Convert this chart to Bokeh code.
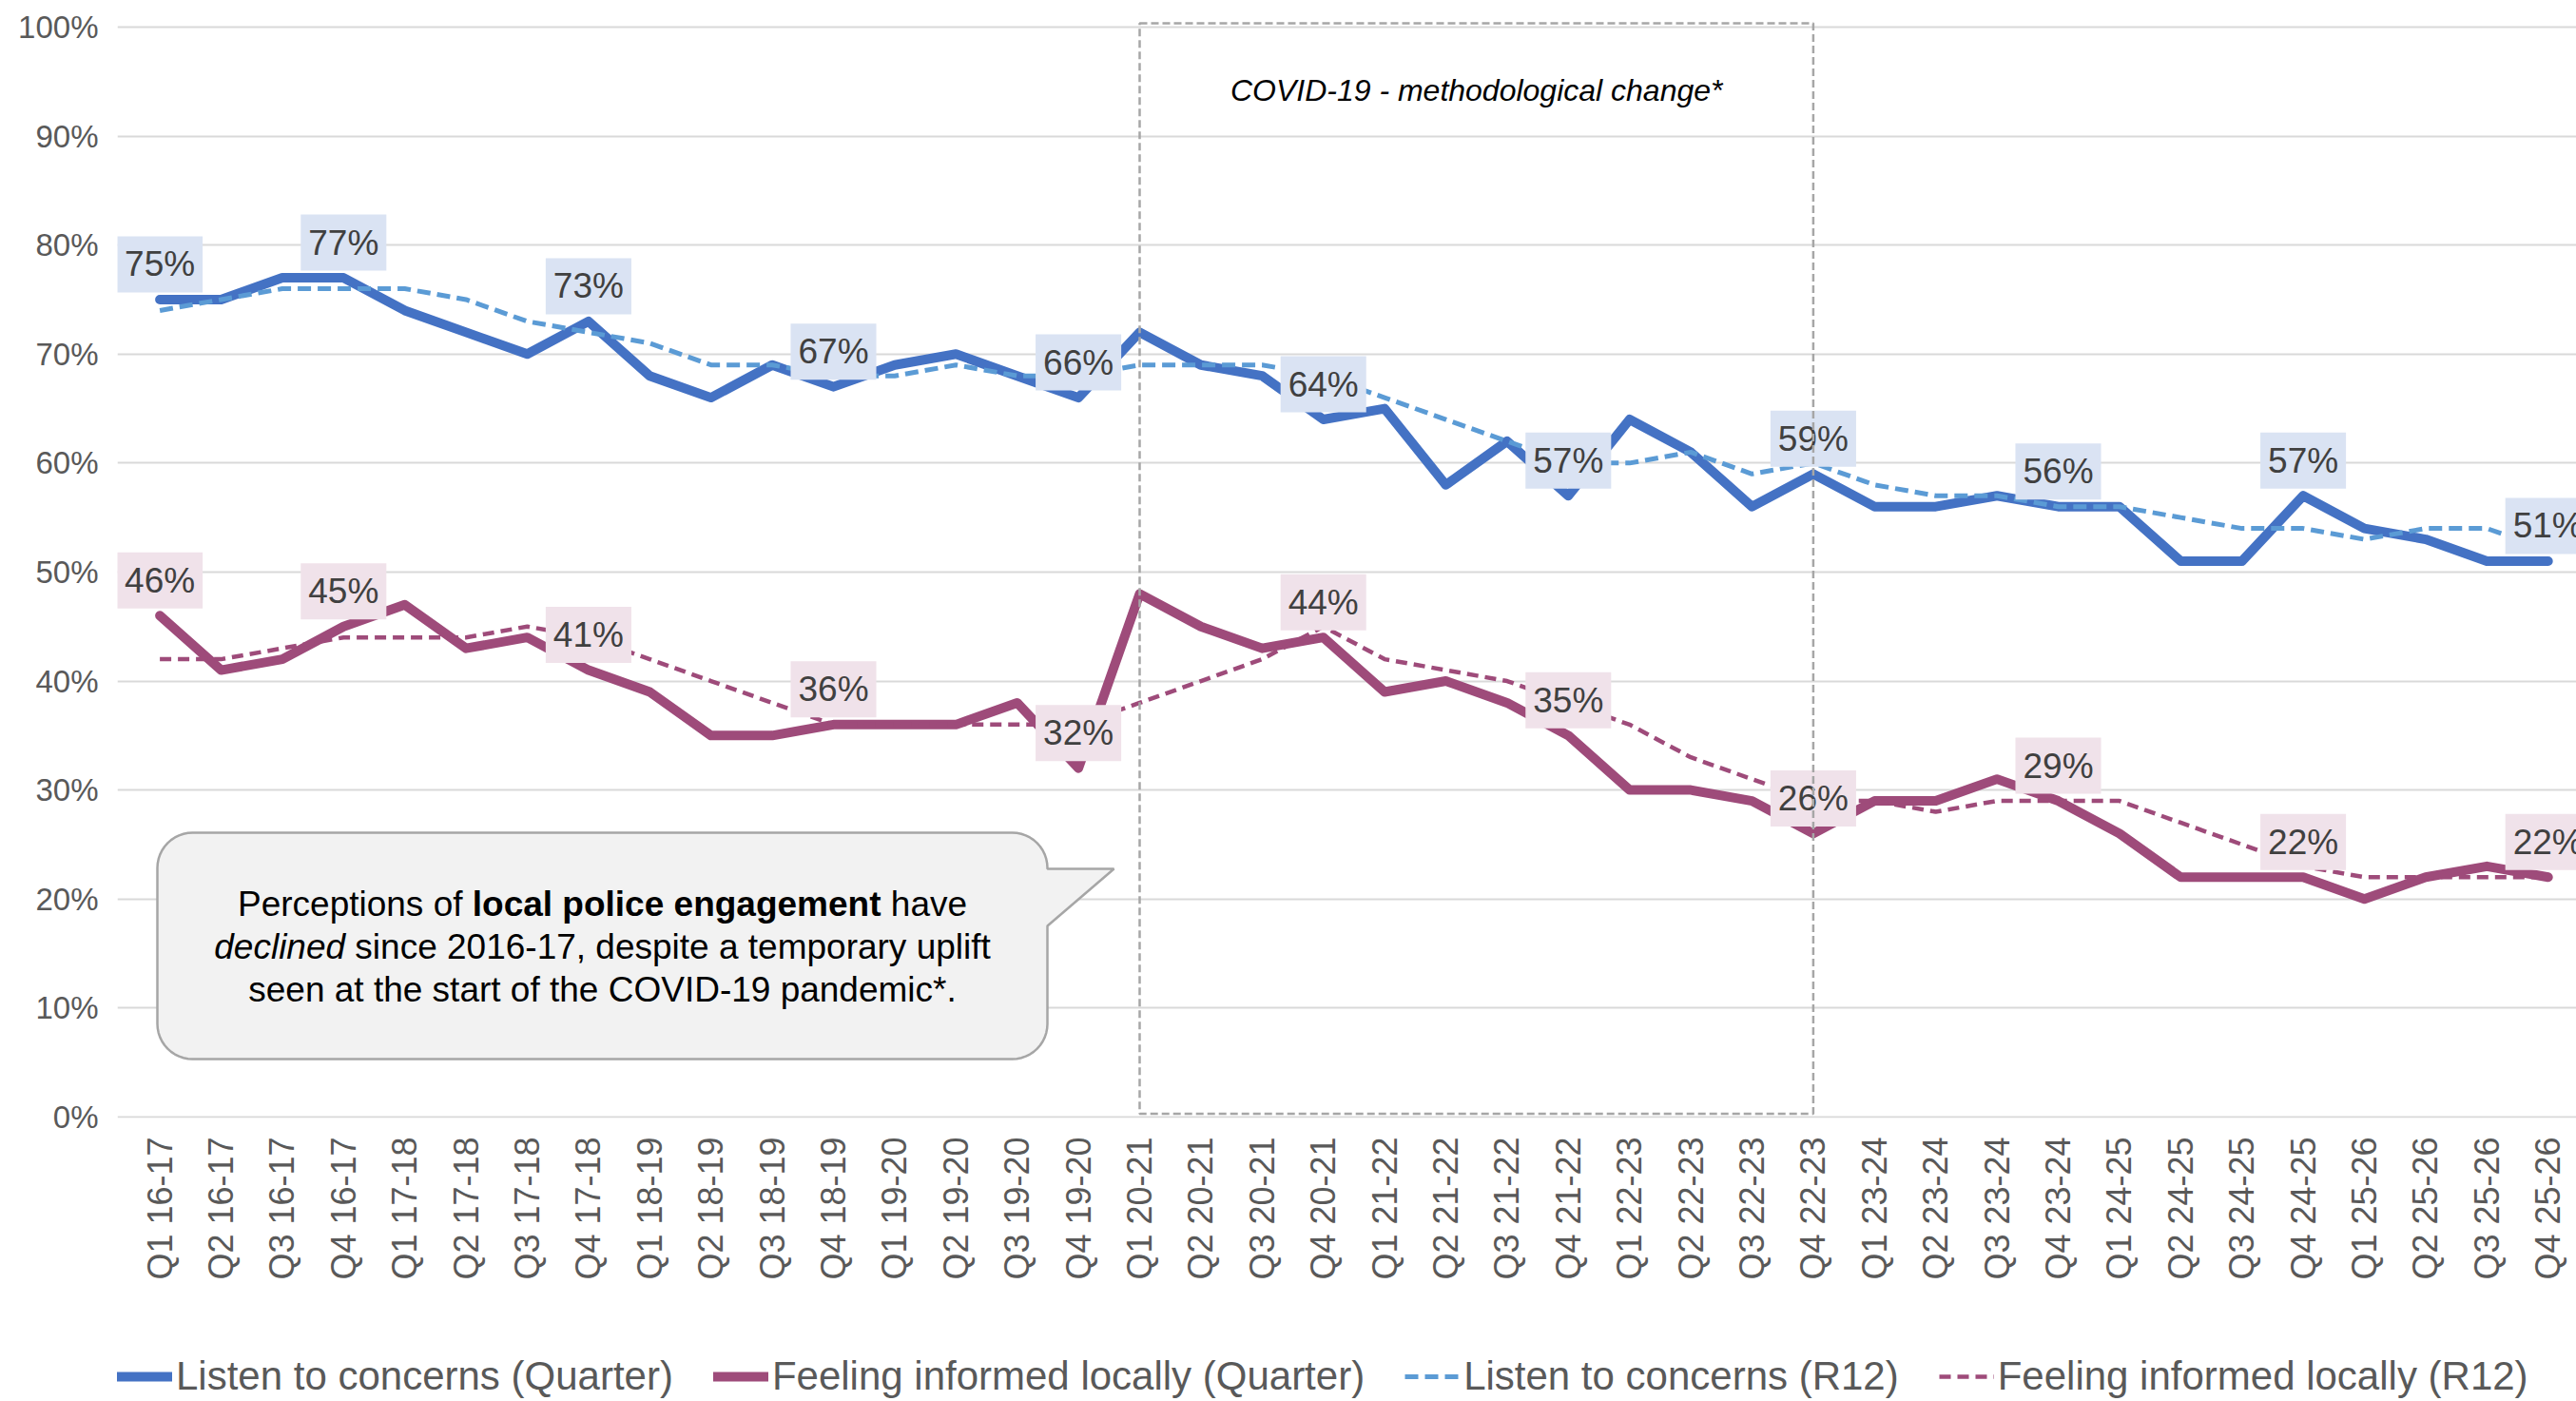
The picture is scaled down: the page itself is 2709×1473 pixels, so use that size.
import math
from bokeh.plotting import figure
from bokeh.layouts import column
from bokeh.models import (Range1d, FixedTicker, PrintfTickFormatter, BoxAnnotation,
                          Legend, LegendItem)
from bokeh.core.properties import value
from bokeh.embed import file_html
from bokeh.resources import INLINE

# ---------------- data ----------------
categories = [
    "Q1 16-17", "Q2 16-17", "Q3 16-17", "Q4 16-17",
    "Q1 17-18", "Q2 17-18", "Q3 17-18", "Q4 17-18",
    "Q1 18-19", "Q2 18-19", "Q3 18-19", "Q4 18-19",
    "Q1 19-20", "Q2 19-20", "Q3 19-20", "Q4 19-20",
    "Q1 20-21", "Q2 20-21", "Q3 20-21", "Q4 20-21",
    "Q1 21-22", "Q2 21-22", "Q3 21-22", "Q4 21-22",
    "Q1 22-23", "Q2 22-23", "Q3 22-23", "Q4 22-23",
    "Q1 23-24", "Q2 23-24", "Q3 23-24", "Q4 23-24",
    "Q1 24-25", "Q2 24-25", "Q3 24-25", "Q4 24-25",
    "Q1 25-26", "Q2 25-26", "Q3 25-26", "Q4 25-26",
]
listen_quarter = [75, 75, 77, 77, 74, 72, 70, 73, 68, 66, 69, 67, 69, 70, 68, 66,
                  72, 69, 68, 64, 65, 58, 62, 57, 64, 61, 56, 59, 56, 56, 57, 56,
                  56, 51, 51, 57, 54, 53, 51, 51]
informed_quarter = [46, 41, 42, 45, 47, 43, 44, 41, 39, 35, 35, 36, 36, 36, 38, 32,
                    48, 45, 43, 44, 39, 40, 38, 35, 30, 30, 29, 26, 29, 29, 31, 29,
                    26, 22, 22, 22, 20, 22, 23, 22]
listen_r12 = [74, 75, 76, 76, 76, 75, 73, 72, 71, 69, 69, 68, 68, 69, 68, 68,
              69, 69, 69, 68, 66, 64, 62, 60, 60, 61, 59, 60, 58, 57, 57, 56,
              56, 55, 54, 54, 53, 54, 54, 52]
informed_r12 = [42, 42, 43, 44, 44, 44, 45, 44, 42, 40, 38, 36, 36, 36, 36, 36,
                38, 40, 42, 45, 42, 41, 40, 38, 36, 33, 31, 29, 29, 28, 29, 29,
                29, 27, 25, 23, 22, 22, 22, 22]
labelled_quarters = ["Q1 16-17", "Q4 16-17", "Q4 17-18", "Q4 18-19", "Q4 19-20",
                     "Q4 20-21", "Q4 21-22", "Q4 22-23", "Q4 23-24", "Q4 24-25",
                     "Q4 25-26"]
y_ticks = [0, 10, 20, 30, 40, 50, 60, 70, 80, 90, 100]
covid_start, covid_end = "Q1 20-21", "Q4 22-23"

series_names = ["Listen to concerns (Quarter)", "Feeling informed locally (Quarter)",
                "Listen to concerns (R12)", "Feeling informed locally (R12)"]
covid_text = "COVID-19 - methodological change*"

# ---------------- styling / layout ----------------
FONT = "Liberation Sans"
BLUE, LBLUE, PURPLE = "#4472C4", "#5B9BD5", "#9E4B7A"
BLUE_BG, PURPLE_BG = "#DAE3F3", "#F0E2EA"
W, H_TOTAL, H_LEG = 2709, 1473, 53
H = H_TOTAL - H_LEG
PX_PER_CAT = 64.4
CAT0_LEFT = 135.4          # page x of the left edge of the first category slot
FRAME_BOTTOM = 1175
MB_LEFT, MB_TOP, MB_RIGHT = 123, 20, 0
MB_BOTTOM = H - FRAME_BOTTOM
FRAME_LEFT = MB_LEFT
FRAME_TOP = MB_TOP
FRAME_W = W - MB_LEFT - MB_RIGHT
FRAME_H = FRAME_BOTTOM - FRAME_TOP
X_START = -0.5 - (CAT0_LEFT - FRAME_LEFT) / PX_PER_CAT
X_END = X_START + FRAME_W / PX_PER_CAT
Y_START, Y_END = -0.1, 100.7


def px_x(px):
    return X_START + (px - FRAME_LEFT) * (X_END - X_START) / FRAME_W


def px_y(py):
    return Y_START + (FRAME_BOTTOM - py) * (Y_END - Y_START) / FRAME_H


UNIT_PX = FRAME_H / (Y_END - Y_START)

p = figure(width=W, height=H, output_backend="svg", toolbar_location=None,
           x_range=Range1d(X_START, X_END), y_range=Range1d(Y_START, Y_END),
           min_border_left=MB_LEFT, min_border_right=MB_RIGHT,
           min_border_top=MB_TOP, min_border_bottom=MB_BOTTOM)
p.outline_line_color = None
p.background_fill_color = "white"
p.border_fill_color = "white"
p.xgrid.visible = False
p.ygrid.grid_line_color = "#D9D9D9"
p.ygrid.grid_line_width = 2

xs = list(range(len(categories)))

p.yaxis.ticker = FixedTicker(ticks=y_ticks)
p.yaxis.formatter = PrintfTickFormatter(format="%d%%")
p.yaxis.axis_line_color = None
p.yaxis.major_tick_line_color = None
p.yaxis.minor_tick_line_color = None
p.yaxis.major_tick_out = 0
p.yaxis.major_tick_in = 0
p.yaxis.major_label_standoff = 20
p.yaxis.major_label_text_font = FONT
p.yaxis.major_label_text_font_size = "33px"
p.yaxis.major_label_text_color = "#595959"

p.xaxis.ticker = FixedTicker(ticks=xs)
p.xaxis.major_label_overrides = {i: c for i, c in enumerate(categories)}
p.xaxis.major_label_orientation = math.pi / 2
p.xaxis.axis_line_color = None
p.xaxis.major_tick_line_color = None
p.xaxis.minor_tick_line_color = None
p.xaxis.major_tick_out = 0
p.xaxis.major_tick_in = 0
p.xaxis.major_label_standoff = 20
p.xaxis.major_label_text_font = FONT
p.xaxis.major_label_text_font_size = "36px"
p.xaxis.major_label_text_color = "#595959"

# COVID box
i0, i1 = categories.index(covid_start), categories.index(covid_end)
p.add_layout(BoxAnnotation(left=i0, right=i1, bottom=0.3, top=px_y(24),
                           fill_alpha=0, fill_color=None, line_color="#A6A6A6",
                           line_alpha=1.0, line_width=2.5, line_dash="8 4"))
p.text(x=[(i0 + i1) / 2], y=[px_y(94)], text=[covid_text],
       text_font=value(FONT), text_font_style="italic", text_font_size="32px",
       text_color="black", text_align="center", text_baseline="alphabetic")

# callout
L, R, T, B, RAD = 165, 1101, 875, 1113, 37
pts = [(L + RAD, T), (R - RAD, T)]
for k in range(1, 13):
    a = -math.pi / 2 + k * (math.pi / 2) / 12
    pts.append((R - RAD + RAD * math.cos(a), T + RAD + RAD * math.sin(a)))
pts += [(R, 913), (1171, 913), (R, 973), (R, B - RAD)]
for k in range(1, 13):
    a = k * (math.pi / 2) / 12
    pts.append((R - RAD + RAD * math.cos(a), B - RAD + RAD * math.sin(a)))
pts.append((L + RAD, B))
for k in range(1, 13):
    a = math.pi / 2 + k * (math.pi / 2) / 12
    pts.append((L + RAD + RAD * math.cos(a), B - RAD + RAD * math.sin(a)))
pts.append((L, T + RAD))
for k in range(1, 13):
    a = math.pi + k * (math.pi / 2) / 12
    pts.append((L + RAD + RAD * math.cos(a), T + RAD + RAD * math.sin(a)))
p.patch([px_x(a) for a, b in pts], [px_y(b) for a, b in pts],
        fill_color="#F2F2F2", line_color="#A6A6A6", line_width=2.5)

FS = 37
cx = 633
BL1, BL2, BL3 = 950, 995, 1040
# line 1 : widths in em (Arial metrics)
w1a, w1b, w1c = 6.670, 11.615, 2.446
x1 = cx - (w1a + w1b + w1c) * FS / 2
segs = [
    ("Perceptions of", x1, BL1, "normal"),
    ("local police engagement", x1 + w1a * FS, BL1, "bold"),
    ("have", x1 + (w1a + w1b + 0.278) * FS, BL1, "normal"),
]
w2a, w2b = 3.724, 18.342
x2 = cx - (w2a + w2b) * FS / 2
segs += [
    ("declined", x2, BL2, "italic"),
    ("since 2016-17, despite a temporary uplift", x2 + (w2a + 0.278) * FS, BL2, "normal"),
]
for txt, sx, sy, style in segs:
    p.text(x=[px_x(sx)], y=[px_y(sy)], text=[txt], text_font=value(FONT),
           text_font_size=f"{FS}px", text_font_style=style, text_color="black",
           text_align="left", text_baseline="alphabetic")
p.text(x=[px_x(cx)], y=[px_y(BL3)], text=["seen at the start of the COVID-19 pandemic*."],
       text_font=value(FONT), text_font_size=f"{FS}px", text_color="black",
       text_align="center", text_baseline="alphabetic")

# lines
line_styles = [
    dict(line_color=BLUE, line_width=10, line_join="round", line_cap="round"),
    dict(line_color=PURPLE, line_width=10, line_join="round", line_cap="round"),
    dict(line_color=LBLUE, line_width=5, line_dash="14 7", line_join="round"),
    dict(line_color=PURPLE, line_width=4.5, line_dash="12 7", line_join="round"),
]
all_series = (listen_quarter, informed_quarter, listen_r12, informed_r12)
for vals, st in zip(all_series, line_styles):
    p.line(xs, vals, **st)

# data labels
idx = [categories.index(c) for c in labelled_quarters]
off = 37 / UNIT_PX
for vals, bg in ((listen_quarter, BLUE_BG), (informed_quarter, PURPLE_BG)):
    p.text(x=idx, y=[vals[i] + off for i in idx], text=[f"{vals[i]}%" for i in idx],
           text_font=value(FONT), text_font_size="37px", text_color="#404040",
           text_align="center", text_baseline="middle",
           background_fill_color=bg, padding=(8, 9))

# legend strip (separate figure below the chart); its ranges keep the proxy
# series out of view so only the legend itself is visible
pl = figure(width=W, height=H_LEG, output_backend="svg", toolbar_location=None,
            x_range=Range1d(0, 1), y_range=Range1d(0, 1),
            x_axis_location=None, y_axis_location=None,
            min_border_left=41, min_border_right=0, min_border_top=0, min_border_bottom=0)
pl.outline_line_color = None
pl.grid.visible = False
leg_renderers = [pl.line(xs, vals, **st) for vals, st in zip(all_series, line_styles)]
legend = Legend(items=[LegendItem(label=n, renderers=[r]) for n, r in
                       zip(series_names, leg_renderers)],
                location="left", orientation="horizontal", padding=0, margin=0,
                spacing=42, glyph_width=58, glyph_height=40, label_height=40,
                label_standoff=4, label_text_font=FONT, label_text_font_size="42px",
                label_text_color="#595959", border_line_color=None,
                background_fill_alpha=0)
pl.add_layout(legend)

layout = column(p, pl, spacing=0)
open("out.html", "w").write(file_html(layout, INLINE))
